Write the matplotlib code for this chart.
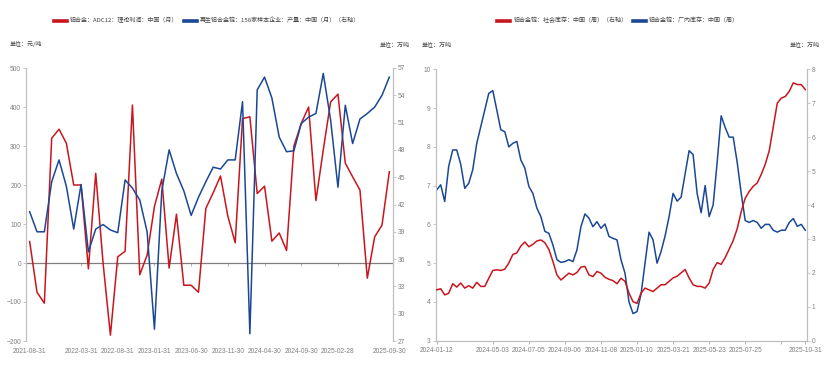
import matplotlib
matplotlib.use('Agg')
import matplotlib.pyplot as plt
import numpy as np

# ---------------- data: left chart (monthly, 2021-08 .. 2025-09) ----------------
left_tick_pos = [0, 7, 12, 17, 22, 27, 32, 37, 42, 49]
left_tick_labels = ['2021-08-31', '2022-03-31', '2022-08-31', '2023-01-31', '2023-06-30',
                    '2023-11-30', '2024-04-30', '2024-09-30', '2025-02-28', '2025-09-30']
profit = [55, -75, -103, 320, 343, 307, 200, 200, -15, 230, 0, -185, 16, 30, 405, -30, 20, 145,
          215, -13, 125, -57, -57, -75, 140, 180, 223, 120, 52, 370, 375, 178, 197, 56, 77,
          32, 300, 358, 400, 160, 290, 413, 433, 256, 221, 187, -39, 67, 97, 234]
production = [41.2, 39.0, 39.0, 44.5, 46.9, 44.0, 39.3, 44.2, 36.8, 39.3, 39.8, 39.2, 38.9, 44.7,
              43.8, 42.5, 39.0, 28.3, 43.5, 48.0, 45.4, 43.5, 40.8, 42.8, 44.5, 46.1, 45.9, 46.9,
              46.9, 53.3, 27.8, 54.6, 56.0, 53.7, 49.4, 47.8, 47.9, 50.9, 51.6, 52.0, 56.4, 51.3,
              43.9, 52.9, 48.7, 51.4, 52.0, 52.7, 54.0, 56.0]
left_names = ['铝合金：ADC12：理论利润：中国（月）', '再生铝合金锭：158家样本企业：产量：中国（月）（右轴）']

# ---------------- data: right chart (weekly, 2024-01-12 .. 2025-10-31) ----------------
right_tick_pos = [0, 14, 23, 32, 41, 50, 59, 68, 77, 86, 92]
right_tick_labels = ['2024-01-12', '2024-05-03', '2024-07-05', '2024-09-06', '2024-11-08',
                     '2025-01-10', '2025-03-21', '2025-05-23', '2025-07-25', '', '2025-10-31']
factory = [6.89, 7.02, 6.59, 7.5, 7.92, 7.92, 7.55, 6.93, 7.06, 7.41,
           8.09, 8.52, 8.95, 9.38, 9.45, 8.95, 8.44, 8.39, 8.0, 8.09,
           8.14, 7.66, 7.45, 6.98, 6.80, 6.42, 6.20, 5.82, 5.77, 5.47,
           5.09, 5.02, 5.04, 5.09, 5.04, 5.34, 5.94, 6.27, 6.16, 5.94,
           6.07, 5.90, 6.01, 5.69, 5.64, 5.60, 5.09, 4.74, 4.0, 3.7,
           3.75, 4.2, 5.0, 5.8, 5.6, 5.0, 5.3, 5.7, 6.2, 6.8,
           6.6, 6.7, 7.3, 7.9, 7.8, 6.8, 6.3, 7.0, 6.2, 6.5,
           7.6, 8.8, 8.5, 8.25, 8.25, 7.6, 6.8, 6.1, 6.05, 6.1,
           6.05, 5.9, 6.0, 6.0, 5.85, 5.8, 5.85, 5.85, 6.05, 6.15,
           5.95, 6.0, 5.85]
social = [1.50, 1.53, 1.35, 1.40, 1.68, 1.58, 1.70, 1.55, 1.62, 1.55,
          1.72, 1.60, 1.60, 1.84, 2.07, 2.09, 2.07, 2.11, 2.29, 2.54,
          2.59, 2.79, 2.91, 2.77, 2.84, 2.94, 2.97, 2.89, 2.69, 2.34,
          1.94, 1.79, 1.89, 1.99, 1.94, 2.01, 2.17, 2.19, 1.94, 1.89,
          2.04, 1.99, 1.87, 1.81, 1.77, 1.68, 1.84, 1.75, 1.4, 1.15,
          1.1, 1.4, 1.55, 1.5, 1.45, 1.55, 1.65, 1.65, 1.75, 1.85,
          1.9, 2.0, 2.1, 1.85, 1.65, 1.6, 1.6, 1.55, 1.7, 2.1,
          2.3, 2.25, 2.45, 2.7, 2.95, 3.3, 3.8, 4.2, 4.4, 4.55,
          4.65, 4.9, 5.2, 5.6, 6.3, 7.0, 7.15, 7.2, 7.35, 7.6,
          7.55, 7.55, 7.4]
right_names = ['铝合金锭：社会库存：中国（周）（右轴）', '铝合金锭：厂内库存：中国（周）']

# ---------------- style ----------------
RED = '#C8161E'
BLUE = '#1A4896'
SPINE = '#BFBFBF'
TXT = '#808080'
NUMFONT = ['Liberation Sans Narrow', 'Liberation Sans', 'DejaVu Sans']
CJK = ['Noto Sans CJK SC', 'DejaVu Sans']
plt.rcParams['font.family'] = NUMFONT
TS = 4.8
CS = 4.3
LW = 1.1

W, H = 830, 371
fig = plt.figure(figsize=(W / 100, H / 100), dpi=100)


def rect(x0, y0, x1, y1):
    return [x0 / W, (H - y1) / H, (x1 - x0) / W, (y1 - y0) / H]


def style_y(ax, side):
    ax.tick_params(axis='y', which='both', direction='out', length=2.5, width=0.6,
                   color=SPINE, labelsize=TS, labelcolor=TXT, pad=1)
    for s in ['top', 'bottom', 'left', 'right']:
        ax.spines[s].set_visible(False)
    ax.spines[side].set_visible(True)
    ax.spines[side].set_color(SPINE)
    ax.spines[side].set_linewidth(0.9)


# ---------------- left chart ----------------
ax1 = fig.add_axes(rect(26, 68, 393, 341))
ax1b = ax1.twinx()
x1 = np.arange(len(profit))
l1, = ax1.plot(x1, profit, color=RED, lw=LW)
l2, = ax1b.plot(x1, production, color=BLUE, lw=LW)
ax1.set_xlim(-0.5, 49.5)
ax1.set_ylim(-200, 500)
ax1.set_yticks(np.arange(-200, 501, 100))
ax1b.set_ylim(27, 57)
ax1b.set_yticks(np.arange(27, 58, 3))
style_y(ax1, 'left')
style_y(ax1b, 'right')
ax1.set_xticks(left_tick_pos)
ax1.set_xticklabels(left_tick_labels)
ax1.tick_params(axis='x', length=0, labelsize=TS, labelcolor=TXT, pad=5)
sec = ax1.secondary_xaxis(200 / 700)
sec.set_xticks(left_tick_pos[1:-1])
sec.tick_params(axis='x', direction='out', length=2.5, width=0.6, color='#A6A6A6', labelbottom=False)
sec.spines['bottom'].set_color('#7F7F7F')
sec.spines['bottom'].set_linewidth(0.9)

leg1 = fig.legend([l1, l2], left_names, loc='center', bbox_to_anchor=(207 / W, 1 - 20.5 / H),
                  ncol=2, frameon=False, prop={'family': CJK, 'size': CS},
                  handlelength=2.2, handletextpad=0.5, columnspacing=0.9, labelcolor='#404040')
for ln in leg1.get_lines():
    ln.set_linewidth(2.6)
fig.text(10 / W, 1 - 44 / H, '单位：元/吨', family=CJK, size=CS, color='#404040', ha='left', va='center')
fig.text(410 / W, 1 - 44 / H, '单位：万吨', family=CJK, size=CS, color='#404040', ha='right', va='center')

# ---------------- right chart ----------------
ax2 = fig.add_axes(rect(435.5, 69.3, 806.5, 340.7))
ax2b = ax2.twinx()
x2 = np.arange(len(factory))
r1, = ax2.plot(x2, factory, color=BLUE, lw=LW)
r2, = ax2b.plot(x2, social, color=RED, lw=LW)
ax2.set_xlim(-0.3, 92.3)
ax2.set_ylim(3, 10)
ax2.set_yticks(np.arange(3, 11, 1))
ax2b.set_ylim(0, 8)
ax2b.set_yticks(np.arange(0, 9, 1))
style_y(ax2, 'left')
style_y(ax2b, 'right')
ax2.spines['bottom'].set_visible(True)
ax2.spines['bottom'].set_color(SPINE)
ax2.spines['bottom'].set_linewidth(0.9)
ax2.set_xticks(right_tick_pos)
ax2.set_xticklabels(right_tick_labels)
ax2.tick_params(axis='x', direction='out', length=2.5, width=0.6, color='#A6A6A6',
                labelsize=TS, labelcolor=TXT, pad=2)

leg2 = fig.legend([r2, r1], right_names, loc='center', bbox_to_anchor=(618 / W, 1 - 20.5 / H),
                  ncol=2, frameon=False, prop={'family': CJK, 'size': CS},
                  handlelength=2.2, handletextpad=0.5, columnspacing=0.9, labelcolor='#404040')
for ln in leg2.get_lines():
    ln.set_linewidth(2.6)
fig.text(422 / W, 1 - 44 / H, '单位：万吨', family=CJK, size=CS, color='#404040', ha='left', va='center')
fig.text(820 / W, 1 - 44 / H, '单位：万吨', family=CJK, size=CS, color='#404040', ha='right', va='center')

fig.savefig('out.png', dpi=100, facecolor='white')
